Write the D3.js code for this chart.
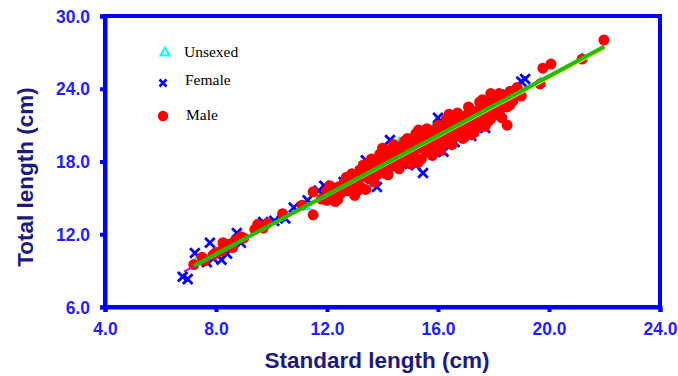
<!DOCTYPE html>
<html><head><meta charset="utf-8">
<script src="https://cdn.jsdelivr.net/npm/d3@7"></script>
<style>body{margin:0;background:#fff}svg{display:block}</style>
</head><body>
<svg id="chart" width="678" height="376"></svg>
<script>
const xTicks = [4, 8, 12, 16, 20, 24];
const yTicks = [6, 12, 18, 24, 30];
const legendLabels = ["Unsexed", "Female", "Male"];

// Unsexed (SL, TL)
const unsexed = [
  [7.3,9.7],[8.1,10.6],[8.6,11.4],[9.6,12.6],[10.3,13.3],[11.2,14.3],[12.1,15.4],[12.6,15.9],
  [13.1,16.7],[13.4,16.2],[13.8,17.6],[14.1,18.4],[14.4,17.4],[14.8,18.9],[15.1,19.4],[15.4,18.6],
  [15.7,19.9],[16.0,20.6],[16.3,19.6],[16.6,21.2],[16.9,20.4],[17.2,21.9],[17.5,21.2],[17.8,22.5],
  [18.1,21.7],[18.4,23.0],[18.8,23.7],[19.7,24.45],[21.2,26.45],[13.6,17.9],[15.9,21.0],[14.6,19.5]
];

// Female (SL, TL)
const female = [
  [6.8,8.5],[6.98,8.3],[7.24,10.45],[7.5,9.9],[7.67,9.7],[7.78,11.3],[7.9,10.0],[8.2,9.9],
  [8.4,10.4],[8.75,12.1],[8.9,11.3],[9.7,13.0],[10.1,13.1],[10.5,13.3],[10.8,14.2],[11.3,14.8],
  [11.7,15.6],[11.9,16.0],[12.3,15.0],[12.6,16.3],[12.9,15.6],[13.0,16.0],[13.2,17.2],[13.4,18.1],
  [13.6,16.6],[13.8,15.9],[13.9,18.0],[14.2,17.3],[14.27,19.77],[14.5,19.3],[14.7,17.8],[15.0,19.7],
  [15.2,17.7],[15.46,17.05],[15.7,20.5],[15.9,18.8],[16.0,21.6],[16.2,18.8],[16.4,21.0],[16.6,19.6],
  [16.9,21.6],[17.2,20.1],[17.4,22.2],[17.7,20.76],[17.9,23.0],[18.3,22.0],[18.5,23.5],[19.0,24.6],
  [19.14,24.8]
];

// Male (SL, TL)
const male = [
  [7.2,9.5],[7.5,10.1],[7.6,9.8],[7.9,10.3],[8.0,10.5],[8.2,10.6],[8.25,11.3],[8.3,10.9],
  [8.4,11.0],[8.5,11.2],[8.6,10.9],[8.7,11.5],[8.8,11.6],[8.9,11.8],[9.0,11.7],[9.4,12.4],
  [9.5,12.8],[9.7,12.5],[9.85,12.9],[10.4,13.7],[11.1,14.4],[11.5,13.6],[11.5,15.5],
  [11.8,14.9],[12.0,15.6],[12.0,14.8],[12.2,15.3],[12.3,14.7],[12.4,15.9],[12.5,15.4],[12.6,16.2],
  [12.7,15.6],[12.8,16.5],[12.9,15.9],[13.0,15.2],[13.0,16.9],[13.1,16.4],[13.2,17.3],[13.2,15.9],
  [13.3,16.8],[13.4,17.4],[13.5,16.6],[13.5,17.9],[13.6,17.2],[13.7,16.8],[13.8,17.8],[13.8,16.9],
  [13.9,17.5],[14.0,18.3],[14.0,17.2],[14.1,17.8],[14.2,16.9],[14.3,18.6],[14.3,17.6],[14.4,18.0],
  [14.5,18.9],[14.5,17.7],[14.6,18.4],[14.7,19.3],[14.7,18.0],[14.8,19.7],[14.8,18.5],[14.9,17.9],
  [15.0,19.2],[15.0,18.5],[15.1,19.8],[15.1,18.9],[15.2,19.4],[15.2,18.3],[15.28,17.9],[15.3,19.9],
  [15.4,19.1],[15.5,20.2],[15.5,19.3],[15.6,18.8],[15.6,19.9],[15.7,20.4],[15.7,19.4],[15.8,19.8],
  [15.8,18.9],[15.9,20.6],[15.9,19.7],[16.0,20.2],[16.0,19.3],[16.1,20.8],[16.1,19.8],[16.2,20.4],
  [16.2,19.5],[16.3,21.0],[16.3,20.0],[16.4,20.7],[16.4,19.9],[16.5,21.3],[16.5,20.5],[16.6,20.1],
  [16.6,21.0],[16.7,21.5],[16.7,20.6],[16.8,20.3],[16.8,21.2],[16.9,21.7],[16.9,20.8],[17.0,21.4],
  [17.0,20.5],[17.1,22.0],[17.1,21.0],[17.2,21.6],[17.2,20.2],[17.3,22.1],[17.3,21.2],[17.4,21.8],
  [17.4,20.8],[17.5,22.3],[17.5,21.5],[17.6,22.0],[17.6,21.0],[17.7,22.5],[17.7,21.7],[17.8,22.2],
  [17.8,21.3],[17.9,22.7],[17.9,23.6],[18.0,22.3],[18.0,21.8],[18.1,23.0],[18.2,22.6],[18.2,22.0],
  [18.3,23.2],[18.35,23.3],[18.4,22.8],[18.49,21.0],[18.5,23.4],[18.6,22.7],[18.7,23.0],[18.8,23.6],
  [18.85,24.1],[19.0,23.4],[19.68,24.4],[19.78,25.7],[20.07,26.04],[21.19,26.45],[21.98,28.02],
  [12.1,16.0],[12.4,14.9],[12.7,16.7],[12.9,17.0],[13.1,15.6],[13.3,17.7],[13.6,18.2],[13.7,16.3],
  [13.9,18.6],[14.1,17.0],[14.2,18.9],[14.4,19.4],[14.6,17.4],[14.9,19.9],[15.0,17.8],[15.2,20.3],
  [15.4,18.2],[15.6,20.7],[15.8,18.5],[16.0,21.0],[16.1,18.9],[16.3,21.5],[16.5,19.4],[16.7,22.0],
  [16.9,19.9],[17.1,22.5],[17.3,20.4],[17.5,22.9],[17.7,20.9],[17.9,21.5],[18.1,22.3],[18.3,21.6],
  [18.5,22.5],[18.6,23.8],[18.2,23.6],[14.0,19.1],[16.4,21.9],[17.6,23.1],[15.3,20.6],[13.4,15.7]
];

// Regression lines: [SL start, TL start, SL end, TL end]
const lineMagenta = [6.85, 8.92, 19.2, 24.04];
const lineYellow = [7.3, 9.45, 22.0, 27.32];
const lineGreen = [7.2, 9.38, 22.0, 27.48];

const svg = d3.select("#chart");
const L = 105, R = 660, T = 16, B = 307;
const x = d3.scaleLinear().domain([4, 24]).range([L, R]);
const y = d3.scaleLinear().domain([6, 30]).range([B, T]);

const blue = "#0000ff";
const tickColor = "#2222ff";
const titleColor = "#1a1a80";

// frame
svg.append("rect").attr("x", L).attr("y", T).attr("width", R - L).attr("height", B - T)
  .attr("fill", "none").attr("stroke", blue).attr("stroke-width", 4);

const xAxis = d3.axisBottom(x).tickValues(xTicks).tickSize(5).tickFormat(d3.format(".1f"));
const gx = svg.append("g").attr("transform", `translate(0,${B})`).call(xAxis);
gx.select(".domain").attr("stroke", blue).attr("stroke-width", 4);
gx.selectAll(".tick line").attr("stroke", blue).attr("stroke-width", 4).attr("y1", 1);
gx.selectAll(".tick text").attr("fill", tickColor).attr("font-size", 17.5).attr("font-weight", "bold")
  .attr("font-family", "Liberation Sans, Arial, sans-serif").attr("dy", 0).attr("y", 28);

const yAxis = d3.axisLeft(y).tickValues(yTicks).tickSize(5).tickFormat(d3.format(".1f"));
const gy = svg.append("g").attr("transform", `translate(${L},0)`).call(yAxis);
gy.select(".domain").attr("stroke", blue).attr("stroke-width", 4);
gy.selectAll(".tick line").attr("stroke", blue).attr("stroke-width", 4).attr("x1", -1);
gy.selectAll(".tick text").attr("fill", tickColor).attr("font-size", 17.5).attr("font-weight", "bold")
  .attr("font-family", "Liberation Sans, Arial, sans-serif").attr("x", -15).attr("dy", "0.35em");

// titles
svg.append("text").attr("x", 377).attr("y", 368).attr("text-anchor", "middle")
  .attr("font-family", "Liberation Sans, Arial, sans-serif").attr("font-weight", "bold")
  .attr("font-size", 22.5).attr("fill", titleColor).text("Standard length (cm)");
svg.append("text").attr("transform", "translate(33,177) rotate(-90)").attr("text-anchor", "middle")
  .attr("font-family", "Liberation Sans, Arial, sans-serif").attr("font-weight", "bold")
  .attr("font-size", 22.5).attr("fill", titleColor).text("Total length (cm)");

const triPath = d3.symbol().type(d3.symbolTriangle).size(40);
function xPath(s) { return `M${-s},${-s}L${s},${s}M${-s},${s}L${s},${-s}`; }

const plot = svg.append("g");
plot.selectAll(".u").data(unsexed).join("path")
  .attr("transform", d => `translate(${x(d[0])},${y(d[1])})`)
  .attr("d", triPath).attr("fill", "none").attr("stroke", "#00ffff").attr("stroke-width", 2);
plot.selectAll(".f").data(female).join("path")
  .attr("transform", d => `translate(${x(d[0])},${y(d[1])})`)
  .attr("d", xPath(4.8)).attr("fill", "none").attr("stroke", blue).attr("stroke-width", 2.8);
plot.selectAll(".m").data(male).join("circle")
  .attr("cx", d => x(d[0])).attr("cy", d => y(d[1])).attr("r", 5.5).attr("fill", "#ff0000");

function drawLine(a, color, w) {
  plot.append("line").attr("x1", x(a[0])).attr("y1", y(a[1])).attr("x2", x(a[2])).attr("y2", y(a[3]))
    .attr("stroke", color).attr("stroke-width", w);
}
drawLine(lineMagenta, "#cc00cc", 2);
drawLine(lineYellow, "#ffff00", 2.5);
drawLine(lineGreen, "#22bb00", 4);

// legend
const lg = svg.append("g");
lg.append("path").attr("transform", "translate(165,53)").attr("d", d3.symbol().type(d3.symbolTriangle).size(35))
  .attr("fill", "none").attr("stroke", "#00ffff").attr("stroke-width", 2);
lg.append("path").attr("transform", "translate(163,83)").attr("d", xPath(3.5))
  .attr("fill", "none").attr("stroke", blue).attr("stroke-width", 2.6);
lg.append("circle").attr("cx", 163).attr("cy", 116).attr("r", 5.2).attr("fill", "#ff0000");
const ly = [57, 85, 120], lx = [184, 185, 186];
legendLabels.forEach((t, i) => {
  lg.append("text").attr("x", lx[i]).attr("y", ly[i]).attr("font-family", "Liberation Serif, Times New Roman, serif")
    .attr("font-size", 15.5).attr("fill", "#000").text(t);
});
</script>
</body></html>
